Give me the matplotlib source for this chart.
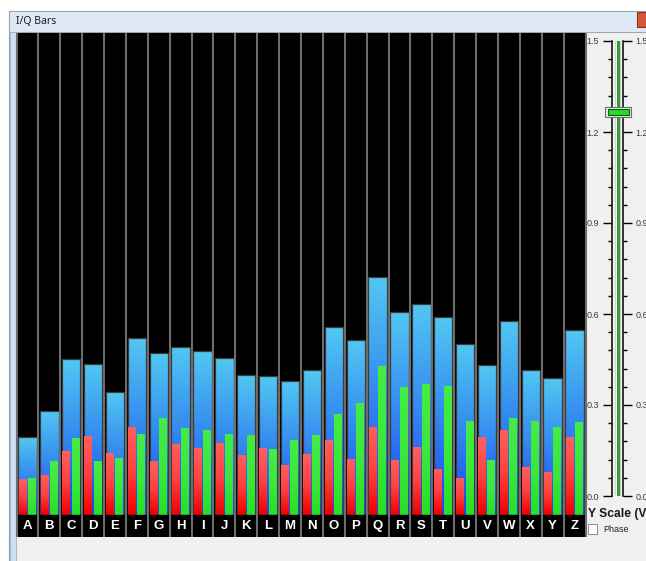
import numpy as np
import matplotlib
matplotlib.use("Agg")
import matplotlib.pyplot as plt
from matplotlib.patches import Rectangle
from matplotlib.colors import LinearSegmentedColormap

# --- data (bar heights in volts, measured from the bar baseline) -----------
letters = list("ABCDEFGHIJKLMNOPQRSTUVWXYZ")
mag = [0.257, 0.343, 0.514, 0.498, 0.406, 0.584, 0.534, 0.554, 0.541, 0.518,
       0.462, 0.458, 0.442, 0.478, 0.620, 0.577, 0.785, 0.669, 0.696, 0.653,
       0.564, 0.495, 0.640, 0.478, 0.452, 0.610]
i_vals = [0.119, 0.133, 0.211, 0.260, 0.204, 0.291, 0.179, 0.235, 0.220, 0.236,
          0.199, 0.220, 0.165, 0.202, 0.248, 0.185, 0.289, 0.181, 0.224, 0.153,
          0.122, 0.256, 0.279, 0.158, 0.142, 0.256]
q_vals = [0.122, 0.177, 0.254, 0.179, 0.188, 0.266, 0.320, 0.288, 0.279, 0.268,
          0.265, 0.217, 0.247, 0.265, 0.334, 0.369, 0.492, 0.421, 0.432, 0.426,
          0.311, 0.181, 0.320, 0.311, 0.291, 0.308]
scale_ticks = [0.0, 0.3, 0.6, 0.9, 1.2, 1.5]
slider_val = 1.266

W, H = 646, 561
PXU = 303.3            # pixels per volt
LABEL_H = 22 / PXU     # letter strip below the bars
TOP = 482 / PXU

blue_cm = LinearSegmentedColormap.from_list("b", ["#1e40f6", "#3389f0", "#52c8f2"])
red_cm = LinearSegmentedColormap.from_list("r", ["#ee0000", "#ff4040", "#ff6060"])
green_cm = LinearSegmentedColormap.from_list("g", ["#26e026", "#3de83d", "#44ec44"])
grad = np.linspace(0, 1, 256).reshape(-1, 1)

plt.rcParams["font.family"] = ["Liberation Sans", "DejaVu Sans"]

fig = plt.figure(figsize=(W / 100, H / 100), dpi=100)
fig.patch.set_facecolor("white")


def frect(x0, y0, x1, y1, zorder=-5, **kw):
    # rectangle in pixel coords (y down) on the figure
    r = Rectangle((x0 / W, 1 - y1 / H), (x1 - x0) / W, (y1 - y0) / H,
                  transform=fig.transFigure, zorder=zorder, **kw)
    fig.add_artist(r)
    return r


# window chrome
frect(9, 11, 660, 570, facecolor="#f0f0f0", edgecolor="#8d9bae", lw=0.8)
frect(9, 11, 660, 32, facecolor="#dfe9f5", edgecolor="#9aa8ba", lw=0.8)
frect(9.5, 32, 15.5, 570, facecolor="#cfe0f2", edgecolor="#9fb2c8", lw=0.6)
frect(637, 12, 652, 27, facecolor="#d4573c", edgecolor="#8a3222", lw=0.8)
fig.text(16 / W, 1 - 21 / H, "I/Q Bars", fontsize=7.5, color="#1a1a1a",
         va="center", family=["Noto Sans", "DejaVu Sans"])

# --- bar panel --------------------------------------------------------------
ax = fig.add_axes([16.5 / W, (H - 537) / H, 569 / W, 504 / H])
ax.set_facecolor("black")
x = np.arange(len(letters))


def grad_bars(xs, vals, width, cmap, z, **kw):
    bars = ax.bar(xs, vals, width=width, color="none", zorder=z + 0.5, **kw)
    for p in bars.patches:
        x0, w, h = p.get_x(), p.get_width(), p.get_height()
        im = ax.imshow(grad, extent=[x0, x0 + w, 0, h], origin="lower",
                       cmap=cmap, aspect="auto", zorder=z, interpolation="bilinear")
        im.set_clip_path(p)
    return bars


grad_bars(x + 0.5, mag, 0.84, blue_cm, 2, edgecolor="#3a3a3a", linewidth=0.9)
grad_bars(x + 0.27, i_vals, 0.34, red_cm, 3, linewidth=0)
grad_bars(x + 0.70, q_vals, 0.36, green_cm, 3, linewidth=0)

ax.vlines(np.arange(len(letters) + 1), -LABEL_H, TOP, color="#6c6c6c",
          lw=1.5, zorder=6, clip_on=False)
ax.axhspan(-LABEL_H, 0, color="black", zorder=4)
for xi, s in zip(x, letters):
    ax.text(xi + 0.5, -LABEL_H / 2, s, color="white", fontsize=9.5,
            weight="bold", ha="center", va="center", zorder=7)

ax.set_xlim(0, len(letters))
ax.set_ylim(-LABEL_H, TOP)
ax.set_xticks([])
ax.set_yticks([])
for sp in ax.spines.values():
    sp.set_visible(False)

# --- Y scale slider ---------------------------------------------------------
sx0, sx1 = 611.7, 623.0
sax = fig.add_axes([sx0 / W, (H - 496) / H, (sx1 - sx0) / W, 455 / H])
sax.set_facecolor("#f0f0f0")
sax.set_ylim(0, 1.5)
sax.set_xlim(0, 1)
sax.set_xticks([])
sax.set_yticks(scale_ticks)
sax.set_yticks(np.arange(0, 1.51, 0.06), minor=True)
sax.set_yticklabels([f"{v:.1f}" for v in scale_ticks])
sax.tick_params(axis="y", which="both", direction="out", left=True, right=True,
                labelleft=True, labelright=True, labelsize=6.5,
                labelcolor="#3a3a3a", width=1.0, color="black")
sax.tick_params(axis="y", which="major", length=6.5, pad=2.5)
sax.tick_params(axis="y", which="minor", length=3)
for s in ("top", "bottom"):
    sax.spines[s].set_visible(False)
for s in ("left", "right"):
    sax.spines[s].set_linewidth(1.1)

sax.add_patch(Rectangle((0.30, 0), 0.42, 1.5, facecolor="#fbfbfb",
                        edgecolor="#c4c4c4", lw=0.5, zorder=2))
sax.add_patch(Rectangle((0.45, 0), 0.22, 1.5, facecolor="#22b422",
                        edgecolor="#127012", lw=0.5, zorder=3))

tx0 = (605 - sx0) / (sx1 - sx0)
tx1 = (631 - sx0) / (sx1 - sx0)
th = 10 / PXU
sax.add_patch(Rectangle((tx0, slider_val - th / 2), tx1 - tx0, th,
                        facecolor="#ececec", edgecolor="#6e6e6e", lw=0.8,
                        zorder=5, clip_on=False))
ix0 = (607.5 - sx0) / (sx1 - sx0)
ix1 = (628.5 - sx0) / (sx1 - sx0)
ih = 5.5 / PXU
sax.add_patch(Rectangle((ix0, slider_val - ih / 2), ix1 - ix0, ih,
                        facecolor="#22dd22", edgecolor="#0c5c0c", lw=0.8,
                        zorder=6, clip_on=False))

# --- labels under the slider -----------------------------------------------
fig.text(588 / W, 1 - 514 / H, "Y Scale (V)", fontsize=8.7, weight="bold",
         color="#1a1a1a", va="center")
frect(587.5, 524, 597, 533.5, zorder=3, facecolor="white",
      edgecolor="#8a8a8a", lw=0.7)
fig.text(603 / W, 1 - 529 / H, "Phase", fontsize=6.5, color="#222222",
         va="center")

fig.savefig("out.png", dpi=100)
